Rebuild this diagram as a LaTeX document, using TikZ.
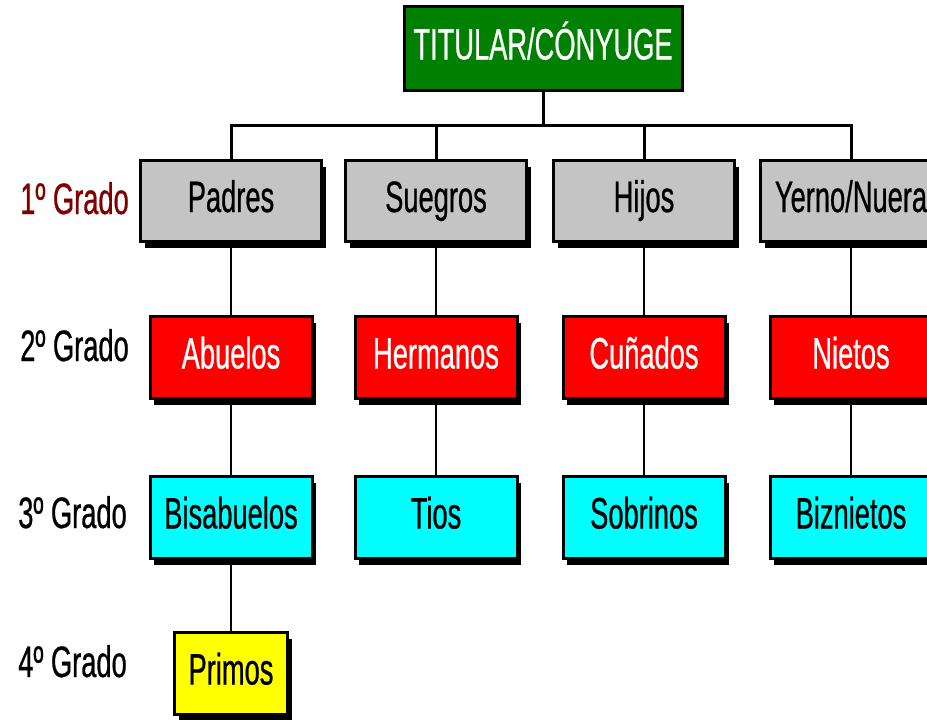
\documentclass[tikz,border=0pt]{standalone}
\usepackage{fontspec}
\setmainfont{Liberation Sans}
\newfontfamily\boxfont[FakeStretch=0.62,FakeBold=0.6]{Liberation Sans}
\usetikzlibrary{shadows}
\definecolor{titgreen}{HTML}{008000}
\definecolor{boxgray}{HTML}{C4C4C4}
\definecolor{boxred}{HTML}{FF0000}
\definecolor{boxcyan}{HTML}{00FFFF}
\definecolor{boxyellow}{HTML}{FFFF00}
\definecolor{darkred}{HTML}{800000}
\tikzset{
  base box/.style={draw=black, line width=3pt, rectangle, inner sep=0pt,
    font=\boxfont\fontsize{44}{44}\selectfont, text height=32pt, text depth=9pt},
  shadowed/.style={base box, drop shadow={shadow xshift=4pt, shadow yshift=-7pt, shadow scale=1, opacity=1, fill=black}},
  titlebox/.style={base box, fill=titgreen, text=white, minimum width=278pt, minimum height=84pt},
  graybox/.style={shadowed, fill=boxgray, text=black, minimum width=181pt, minimum height=81pt},
  redbox/.style={shadowed, fill=boxred, text=white, minimum width=162pt, minimum height=82pt},
  cyanbox/.style={shadowed, fill=boxcyan, text=black, minimum width=162pt, minimum height=82pt},
  yellowbox/.style={shadowed, fill=boxyellow, text=black, minimum width=113pt, minimum height=82pt},
  gradelabel/.style={anchor=base east, inner sep=0pt, font=\boxfont\fontsize{44}{44}\selectfont},
  busline/.style={line width=3pt},
  link/.style={line width=2pt}
}
\begin{document}
\begin{tikzpicture}[x=1pt,y=-1pt]
\useasboundingbox (0,0) rectangle (927,720);
\clip (0,0) rectangle (927,720);
\fill[white] (0,0) rectangle (927,720);
\coordinate (bus) at (543,125);
% nodes
\node[titlebox] (title) at (543,48) {TITULAR/CÓNYUGE};
\node[graybox] (padres) at (231,200.5) {Padres};
\node[graybox] (suegros) at (436,200.5) {Suegros};
\node[graybox] (hijos) at (644,200.5) {Hijos};
\node[graybox] (yerno) at (851,200.5) {Yerno/Nuera};
\node[redbox] (abuelos) at (231,357) {Abuelos};
\node[redbox] (hermanos) at (436,357) {Hermanos};
\node[redbox] (cunados) at (644,357) {Cuñados};
\node[redbox] (nietos) at (851,357) {Nietos};
\node[cyanbox] (bisabuelos) at (231,517) {Bisabuelos};
\node[cyanbox] (tios) at (436,517) {Tios};
\node[cyanbox] (sobrinos) at (644,517) {Sobrinos};
\node[cyanbox] (biznietos) at (851,517) {Biznietos};
\node[yellowbox] (primos) at (231,673) {Primos};
% grade labels
\node[gradelabel, text=darkred] (g1) at (129,214) {1º Grado};
\node[gradelabel] (g2) at (129,361) {2º Grado};
\node[gradelabel] (g3) at (127,528) {3º Grado};
\node[gradelabel] (g4) at (127,677) {4º Grado};
% connectors
\draw[busline] (title.south) -- (bus);
\draw[busline] (padres.north) |- (bus);
\draw[busline] (suegros.north) |- (bus);
\draw[busline] (hijos.north) |- (bus);
\draw[busline] (yerno.north) |- (bus);
\draw[link] (padres) -- (abuelos);
\draw[link] (abuelos) -- (bisabuelos);
\draw[link] (bisabuelos) -- (primos);
\draw[link] (suegros) -- (hermanos);
\draw[link] (hermanos) -- (tios);
\draw[link] (hijos) -- (cunados);
\draw[link] (cunados) -- (sobrinos);
\draw[link] (yerno) -- (nietos);
\draw[link] (nietos) -- (biznietos);
\end{tikzpicture}
\end{document}
